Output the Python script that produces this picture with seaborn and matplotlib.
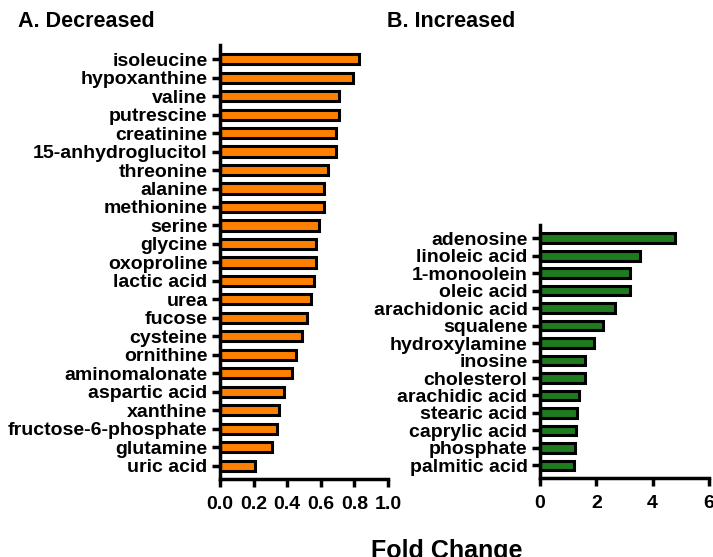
import matplotlib
matplotlib.use("Agg")
import matplotlib.pyplot as plt
import seaborn as sns
import pandas as pd

dec_labels = ["isoleucine", "hypoxanthine", "valine", "putrescine", "creatinine",
              "15-anhydroglucitol", "threonine", "alanine", "methionine", "serine",
              "glycine", "oxoproline", "lactic acid", "urea", "fucose", "cysteine",
              "ornithine", "aminomalonate", "aspartic acid", "xanthine",
              "fructose-6-phosphate", "glutamine", "uric acid"]
dec_values = [0.83, 0.79, 0.71, 0.71, 0.69, 0.69, 0.64, 0.62, 0.62, 0.59, 0.57,
              0.57, 0.56, 0.54, 0.52, 0.49, 0.45, 0.43, 0.38, 0.35, 0.34, 0.31, 0.21]

inc_labels = ["adenosine", "linoleic acid", "1-monoolein", "oleic acid",
              "arachidonic acid", "squalene", "hydroxylamine", "inosine",
              "cholesterol", "arachidic acid", "stearic acid", "caprylic acid",
              "phosphate", "palmitic acid"]
inc_values = [4.8, 3.55, 3.2, 3.2, 2.65, 2.25, 1.9, 1.6, 1.6, 1.4, 1.3, 1.28, 1.25, 1.2]

dec_ticks = [0.0, 0.2, 0.4, 0.6, 0.8, 1.0]
inc_ticks = [0, 2, 4, 6]

sns.set_theme(style="ticks")
plt.rcParams['font.family'] = ['Liberation Sans', 'DejaVu Sans']
plt.rcParams['font.weight'] = 'bold'
plt.rcParams['text.color'] = 'black'
plt.rcParams['xtick.labelcolor'] = 'black'
plt.rcParams['ytick.labelcolor'] = 'black'

fig = plt.figure(figsize=(7.13, 5.57), dpi=100)
ax1 = fig.add_axes([0.3086, 0.140, 0.2356, 0.779])
ax2 = fig.add_axes([0.7574, 0.142, 0.2370, 0.454])

def draw(ax, labels, values, color, ticks, tick_fmt):
    df = pd.DataFrame({"name": labels, "value": values})
    sns.barplot(data=df, x="value", y="name", ax=ax, color=color, saturation=1,
                edgecolor="black", linewidth=2.2, width=0.55, orient="h")
    n = len(labels)
    ax.set_ylim(n - 1 + 0.72, -0.76)
    ax.set_xlim(ticks[0], ticks[-1])
    ax.set_xticks(ticks)
    ax.set_xticklabels([tick_fmt(t) for t in ticks], fontsize=14, fontweight='bold',
                       color='black')
    ax.set_yticks(range(n))
    ax.set_yticklabels(labels, fontsize=14, fontweight='bold', color='black')
    ax.set_xlabel("")
    ax.set_ylabel("")
    for s in ["top", "right"]:
        ax.spines[s].set_visible(False)
    for s in ["left", "bottom"]:
        ax.spines[s].set_linewidth(2.5)
        ax.spines[s].set_color("black")
    ax.tick_params(axis="both", width=2.5, length=6, color="black", pad=3)
    ax.tick_params(axis="x", pad=6)

draw(ax1, dec_labels, dec_values, "#FF8000", dec_ticks, lambda t: f"{t:.1f}")
draw(ax2, inc_labels, inc_values, "#1E7B1E", inc_ticks, lambda t: f"{t:d}")

fig.text(0.025, 0.962, "A. Decreased", fontsize=15.5, fontweight='bold', ha='left', va='center')
fig.text(0.543, 0.962, "B. Increased", fontsize=15.5, fontweight='bold', ha='left', va='center')
fig.text(0.626, 0.011, "Fold Change", fontsize=18, fontweight='bold', ha='center', va='center')

fig.savefig("out.png", dpi=100)
